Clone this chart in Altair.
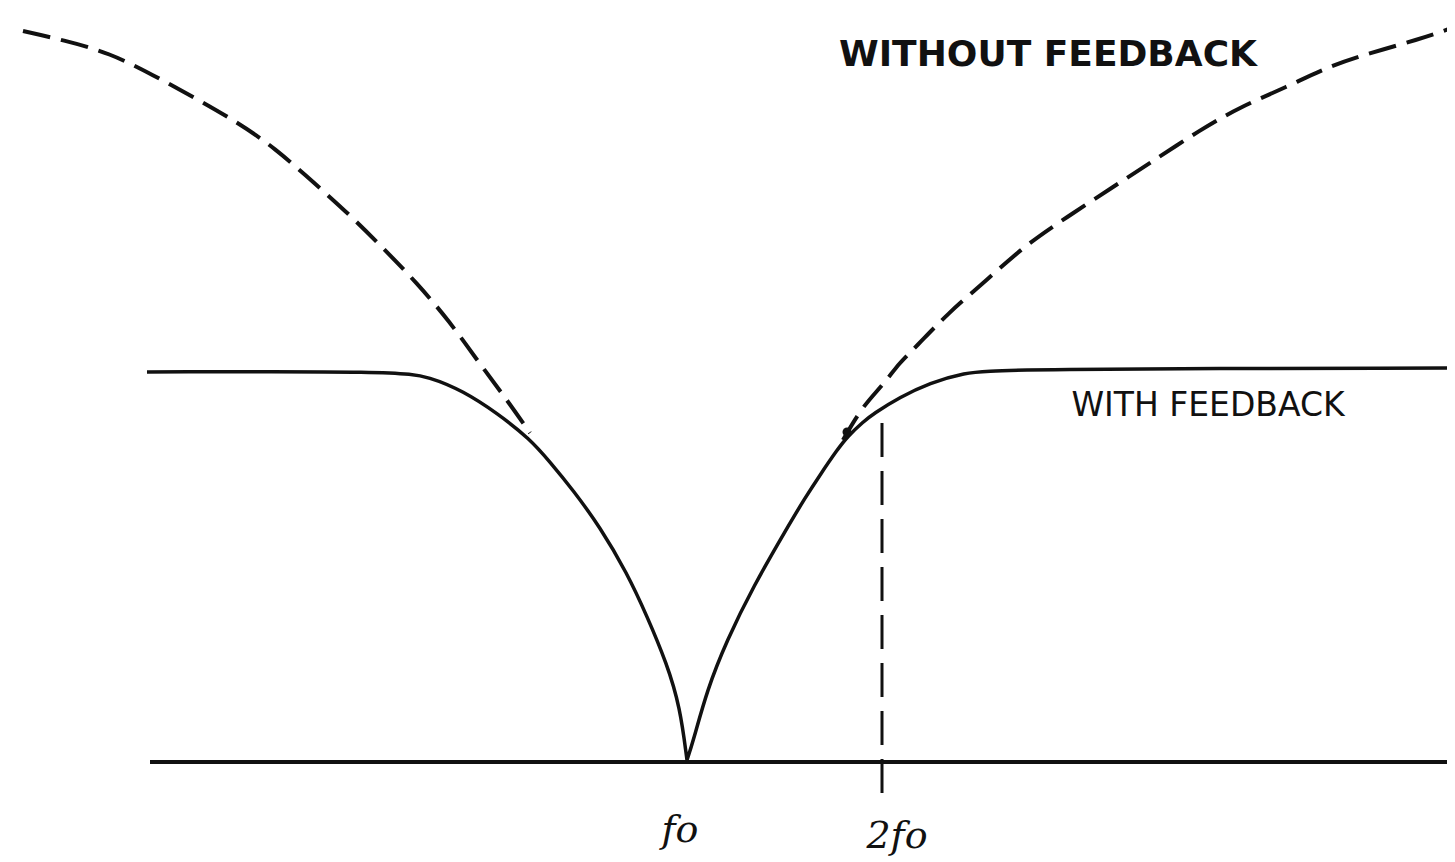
import altair as alt
import pandas as pd

# --- values (x: frequency position, y: response height above baseline) ---
# "WITHOUT FEEDBACK" dashed curve, left visible part
wo_left_x = [23, 63, 110, 153, 195, 237, 275, 313, 350, 383, 417, 450, 477, 507, 530]
wo_left_y = [731, 722, 709, 687, 664, 640, 614, 580, 547, 514, 479, 440, 402, 362, 329]
# "WITHOUT FEEDBACK" dashed curve, right visible part
wo_right_x = [843, 862, 883, 900, 915, 948, 987, 1023, 1067, 1113, 1150, 1200, 1240, 1287, 1327, 1370, 1417, 1455]
wo_right_y = [322, 355, 377, 400, 414, 449, 482, 515, 545, 575, 599, 632, 655, 675, 695, 709, 722, 735]
# "WITH FEEDBACK" solid curve (tip point repeated so the smooth curve keeps its cusp)
wf_x = [147, 147, 397, 430, 463, 497, 530, 550, 573, 600, 627, 647, 667, 680, 687, 687, 687,
        693, 707, 727, 753, 787, 805, 820, 837, 848, 863, 873, 900, 930, 963, 1000, 1455, 1455]
wf_y = [390, 390, 391, 385, 371, 349, 323, 300, 272, 235, 189, 146, 98, 55, 2, 2, 2,
        20, 72, 122, 175, 234, 264, 287, 312, 326, 340, 348, 365, 379, 389, 393, 394, 394]
# baseline (frequency axis)
base_x = [150, 1455]
base_y = [0, 0]
# 2f0 marker
marker_x = [882]
marker_top = [339]
marker_bottom = [-45]
# junction dot
dot_x = [847]
dot_y = [330]
# labels
curve_labels = ["WITHOUT  FEEDBACK", "WITH  FEEDBACK"]
curve_label_x = [1048, 1208]
curve_label_y = [707, 356]
freq_labels = ["fo", "2fo"]
freq_label_x = [680, 897]
freq_label_y = [-80, -86]

XDOM = [8, 1447]
YDOM = [-100, 754]
INK = "#111111"


def xenc(field="x"):
    return alt.X(f"{field}:Q", scale=alt.Scale(domain=XDOM, nice=False, zero=False), axis=None)


def yenc(field="y"):
    return alt.Y(f"{field}:Q", scale=alt.Scale(domain=YDOM, nice=False, zero=False), axis=None)


dashed_df = pd.DataFrame({
    "x": wo_left_x + wo_right_x,
    "y": wo_left_y + wo_right_y,
    "seg": ["left"] * len(wo_left_x) + ["right"] * len(wo_right_x),
    "i": list(range(len(wo_left_x))) + list(range(len(wo_right_x))),
})
solid_df = pd.DataFrame({"x": wf_x, "y": wf_y, "i": list(range(len(wf_x)))})
base_df = pd.DataFrame({"x": base_x, "y": base_y})
marker_df = pd.DataFrame({"x": marker_x, "y": marker_top, "y2": marker_bottom})
dot_df = pd.DataFrame({"x": dot_x, "y": dot_y})
clab_df = pd.DataFrame({"x": curve_label_x, "y": curve_label_y, "t": curve_labels,
                        "w": ["bold", "normal"]})
flab_df = pd.DataFrame({"x": freq_label_x, "y": freq_label_y, "t": freq_labels})

baseline = alt.Chart(base_df).mark_line(color=INK, strokeWidth=4, strokeCap="butt").encode(
    x=xenc(), y=yenc())

solid = alt.Chart(solid_df).mark_line(color=INK, strokeWidth=3.5, strokeJoin="round",
                                      interpolate="basis").encode(
    x=xenc(), y=yenc(), order="i:Q")

dashed = alt.Chart(dashed_df).mark_line(color=INK, strokeWidth=4, strokeDash=[28, 11],
                                        strokeCap="butt", interpolate="basis").encode(
    x=xenc(), y=yenc(), detail="seg:N", order="i:Q")

marker = alt.Chart(marker_df).mark_rule(color=INK, strokeWidth=3, strokeDash=[34, 14]).encode(
    x=xenc(), y=yenc(), y2="y2:Q")

dot = alt.Chart(dot_df).mark_point(filled=True, color=INK, size=80, opacity=1).encode(
    x=xenc(), y=yenc())

clab_bold = alt.Chart(clab_df[clab_df["w"] == "bold"]).mark_text(
    font="DejaVu Sans", fontWeight="bold", fontSize=36, color=INK, align="center",
    baseline="middle").encode(x=xenc(), y=yenc(), text="t:N")

clab_norm = alt.Chart(clab_df[clab_df["w"] == "normal"]).mark_text(
    font="DejaVu Sans", fontSize=33, color=INK, align="center",
    baseline="middle").encode(x=xenc(), y=yenc(), text="t:N")

flab = alt.Chart(flab_df).mark_text(
    font="DejaVu Serif", fontStyle="italic", fontSize=38, color=INK, align="center",
    baseline="alphabetic").encode(x=xenc(), y=yenc(), text="t:N")

chart = alt.layer(baseline, solid, dashed, marker, dot, clab_bold, clab_norm, flab).properties(
    width=1439, height=854,
    autosize=alt.AutoSizeParams(type="none"),
    padding=0,
    background="white",
).configure_view(stroke=None)

chart.save("out.html", embed_options={"renderer": "svg", "actions": False})
